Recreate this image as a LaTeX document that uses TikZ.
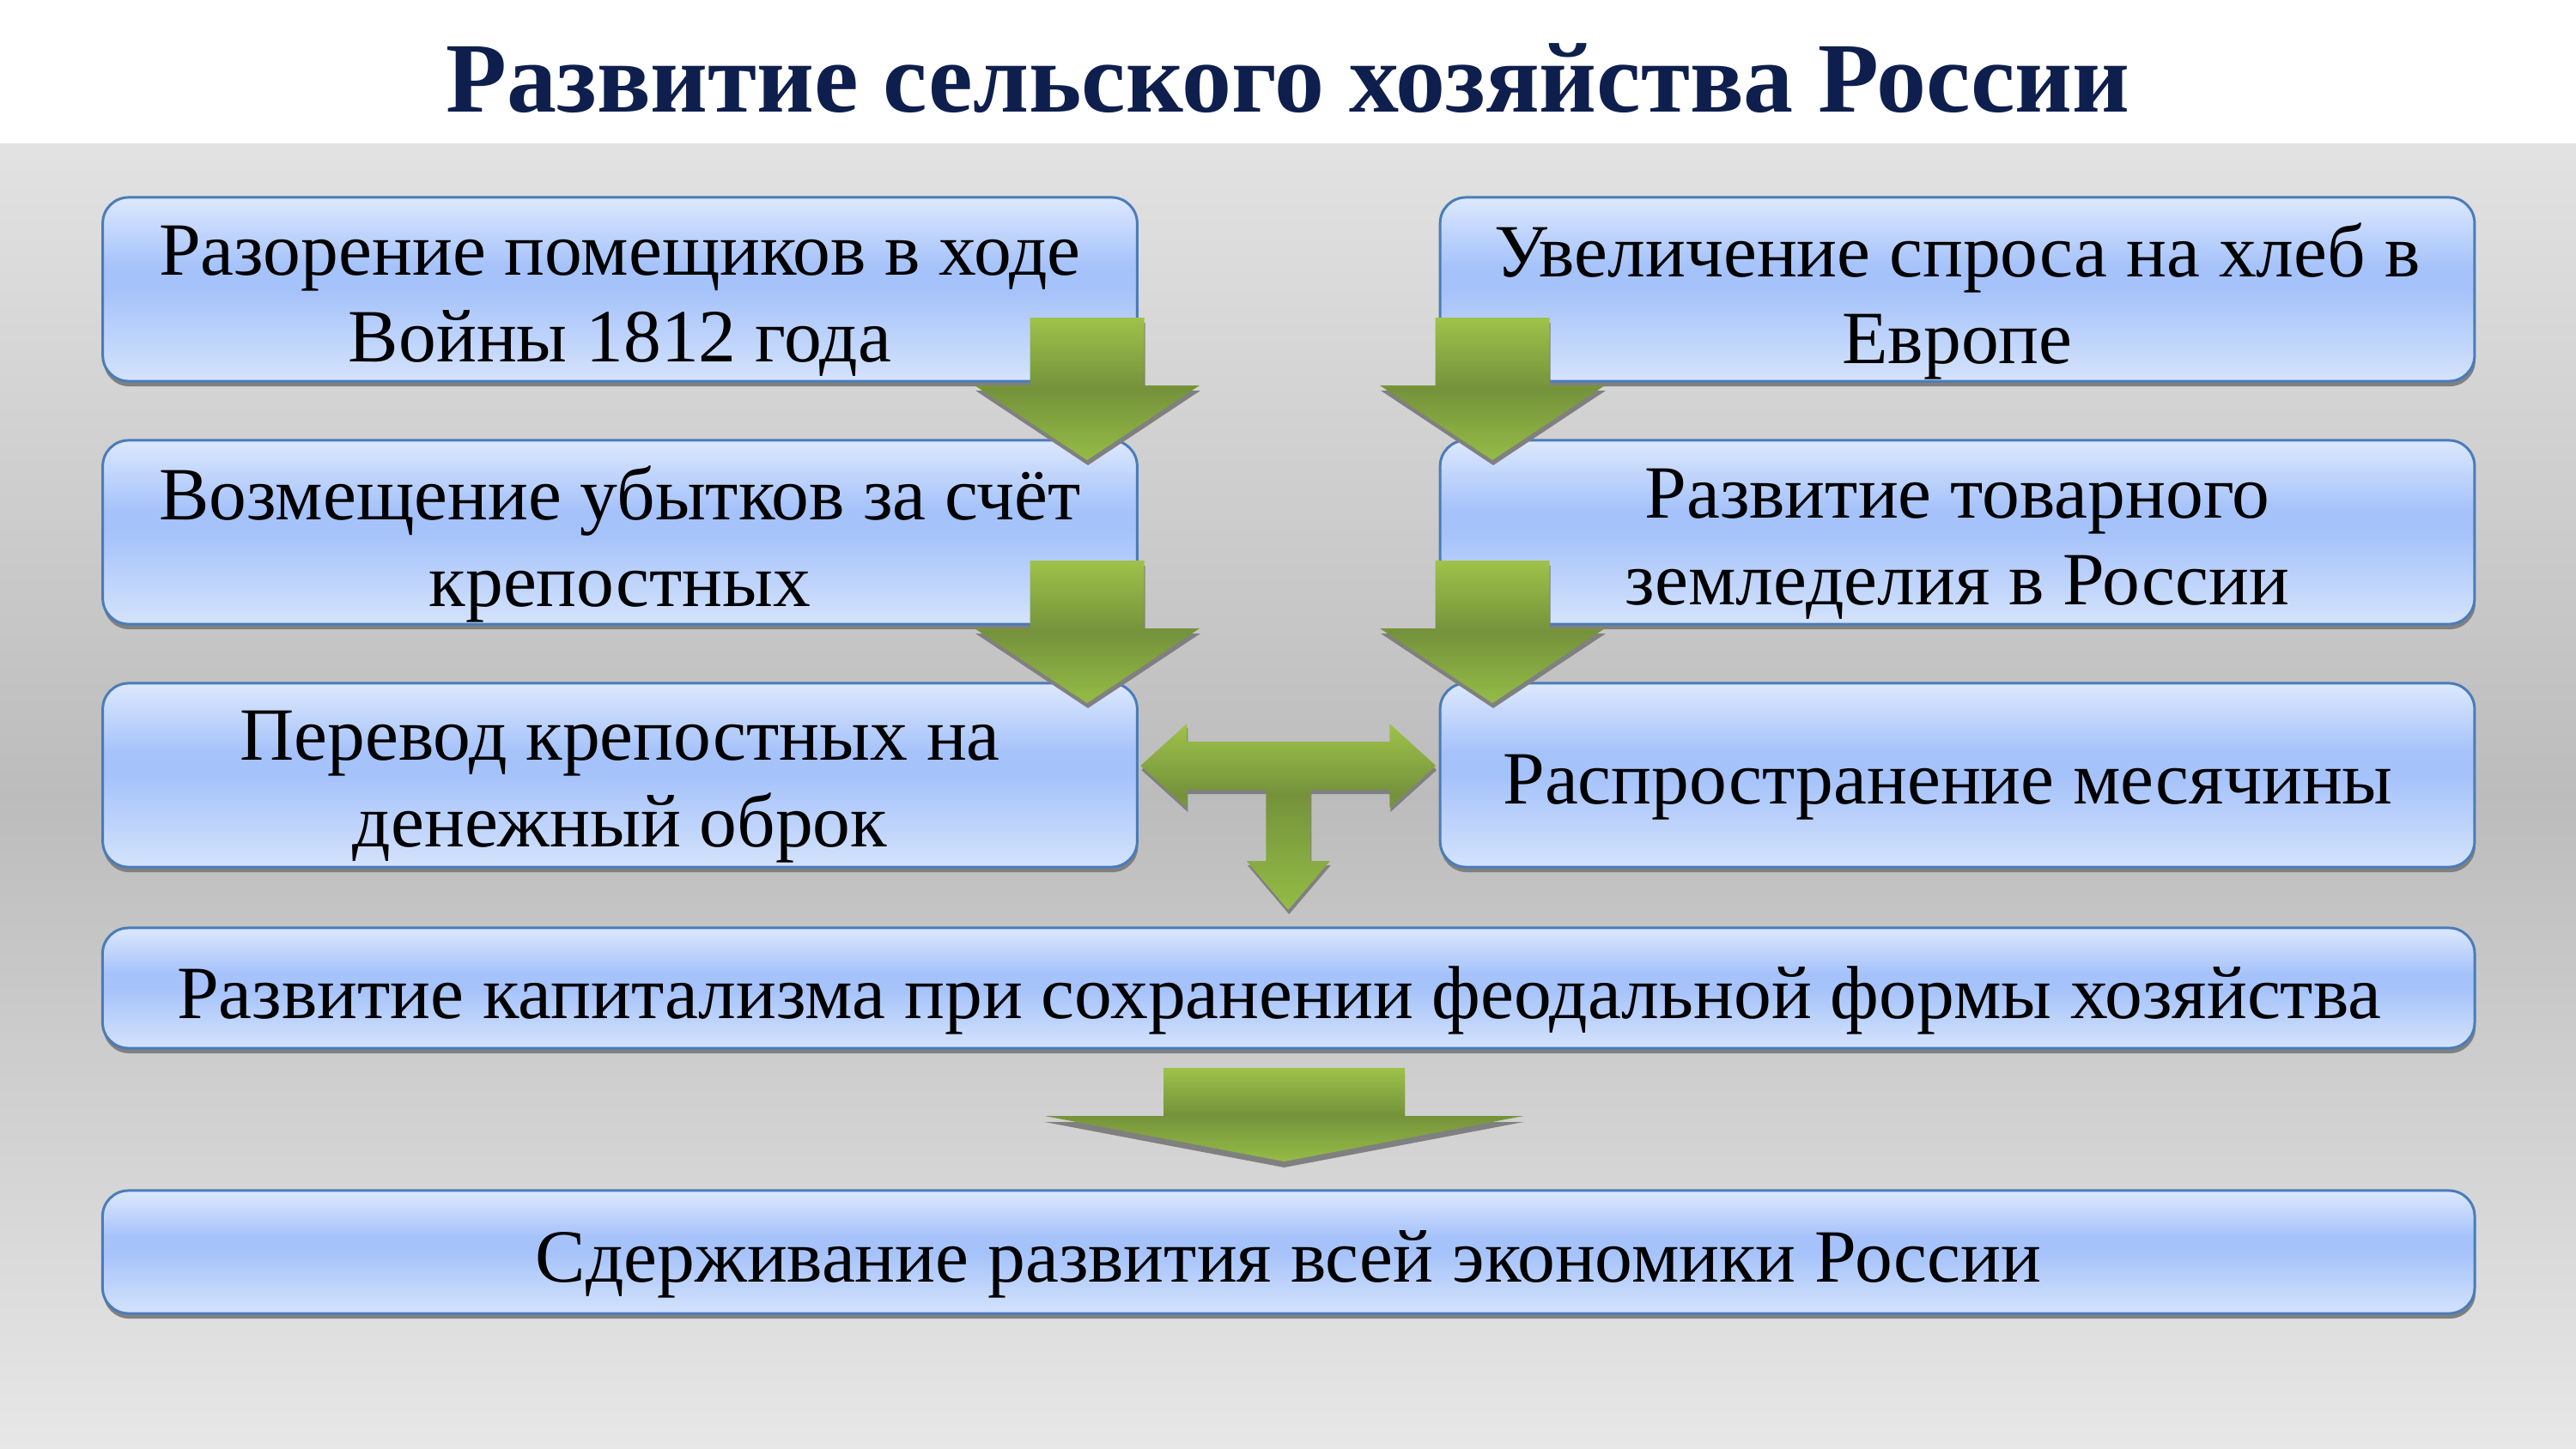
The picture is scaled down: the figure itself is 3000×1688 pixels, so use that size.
\documentclass[tikz,border=0pt]{standalone}
\usepackage{fontspec}
\setmainfont{Liberation Serif}
\usetikzlibrary{shadows}
\definecolor{bxL}{RGB}{220,232,253}
\definecolor{bxB}{RGB}{212,227,252}
\definecolor{bxD}{RGB}{165,194,250}
\definecolor{bxE}{RGB}{74,124,186}
\definecolor{arL}{RGB}{158,194,74}
\definecolor{arD}{RGB}{117,146,59}
\definecolor{arT}{RGB}{148,188,70}
\definecolor{shd}{RGB}{128,128,128}
\definecolor{ttl}{HTML}{0F1F4D}
\definecolor{bgT}{RGB}{226,226,226}
\definecolor{bgM}{RGB}{188,188,188}
\definecolor{bgB}{RGB}{231,231,231}
\pgfdeclareverticalshading{boxsh}{100bp}{color(0bp)=(bxB); color(25bp)=(bxB); color(50bp)=(bxD); color(56bp)=(bxD); color(75bp)=(bxL); color(100bp)=(bxL)}
\pgfdeclareverticalshading{arsh}{100bp}{color(0bp)=(arT); color(25bp)=(arT); color(50bp)=(arD); color(75bp)=(arL); color(100bp)=(arL)}
\pgfdeclareverticalshading{tsh}{100bp}{color(0bp)=(arT); color(25bp)=(arT); color(56bp)=(arD); color(75bp)=(arL); color(100bp)=(arL)}
\pgfdeclareverticalshading{bgsh}{100bp}{color(0bp)=(bgB); color(25bp)=(bgB); color(50bp)=(bgM); color(75bp)=(bgT); color(100bp)=(bgT)}
\tikzset{
  box/.style={draw=bxE, line width=0.85pt, rounded corners=0.3cm, shade, shading=boxsh,
    minimum width=12.04cm, minimum height=2.14cm, inner sep=0pt,
    drop shadow={shadow xshift=0.01cm, shadow yshift=-0.06cm, fill=shd, opacity=1}},
  widebox/.style={box, minimum width=27.61cm},
  txt/.style={align=center, inner sep=0pt, yshift=-0.14cm,
    font=\fontsize{24.9}{28.7}\selectfont, text=black},
  arshadow/.style={fill=shd},
  pics/dnarr/.style={code={
    \fill[arshadow, shift={(1,6)}] (-66.5,0) -- (66.5,0) -- (66.5,79) -- (131,79) -- (0,166) -- (-131,79) -- (-66.5,79) -- cycle;
    \shade[shading=arsh] (-66.5,0) -- (66.5,0) -- (66.5,79) -- (131,79) -- (0,166) -- (-131,79) -- (-66.5,79) -- cycle;
  }},
  pics/bigarr/.style={code={
    \fill[arshadow, shift={(0,7)}] (-140.5,0) -- (140.5,0) -- (140.5,56) -- (279,56) -- (0,109) -- (-279,56) -- (-140.5,56) -- cycle;
    \shade[shading=arsh] (-140.5,0) -- (140.5,0) -- (140.5,56) -- (279,56) -- (0,109) -- (-279,56) -- (-140.5,56) -- cycle;
  }},
  pics/tarr/.style={code={
    \fill[arshadow, shift={(1,5)}] (-172,0) -- (-118,-49) -- (-118,-28) -- (118,-28) -- (118,-49) -- (172,0) -- (118,49) -- (118,28) -- (26,28) -- (26,111) -- (48.5,111) -- (0,168) -- (-48.5,111) -- (-26,111) -- (-26,28) -- (-118,28) -- (-118,49) -- cycle;
    \shade[shading=tsh] (-172,0) -- (-118,-49) -- (-118,-28) -- (118,-28) -- (118,-49) -- (172,0) -- (118,49) -- (118,28) -- (26,28) -- (26,111) -- (48.5,111) -- (0,168) -- (-48.5,111) -- (-26,111) -- (-26,28) -- (-118,28) -- (-118,49) -- cycle;
  }}
}
\begin{document}
\begin{tikzpicture}[x=0.01cm, y=-0.01cm]
\useasboundingbox (0,0) rectangle (3000,1688);
\fill[white] (0,0) rectangle (3000,168);
\shade[shading=bgsh] (0,168) rectangle (3000,1688);

\node[anchor=base, font=\fontsize{33}{40}\selectfont\bfseries, text=ttl] (title) at (1500,130) {Развитие сельского хозяйства России};

\node[box] (b1) at (722,337) {};
\node[box] (b2) at (2279.5,337) {};
\node[box] (b3) at (722,620) {};
\node[box] (b4) at (2279.5,620) {};
\node[box] (b5) at (722,903) {};
\node[box] (b6) at (2279.5,903) {};
\node[widebox, minimum height=1.40cm] (b7) at (1500.7,1151) {};
\node[widebox, minimum height=1.43cm] (b8) at (1500.7,1458.5) {};

\node[txt] (t1) at (b1) {Разорение помещиков в ходе\\Войны 1812 года};
\node[txt] (t2) at (b2) {Увеличение спроса на хлеб в\\Европе};
\node[txt] (t3) at (b3) {Возмещение убытков за счёт\\крепостных};
\node[txt] (t4) at (b4) {Развитие товарного\\земледелия в России};
\node[txt] (t5) at (b5) {Перевод крепостных на\\денежный оброк};
\node[txt, xshift=-0.11cm] (t6) at (b6) {Распространение месячины};
\node[txt, xshift=-0.11cm] (t7) at (b7) {Развитие капитализма при сохранении феодальной формы хозяйства};
\node[txt] (t8) at (b8) {Сдерживание развития всей экономики России};

\pic (a1) at (1266,370) {dnarr};
\pic (a2) at (1266,653) {dnarr};
\pic (a3) at (1738,370) {dnarr};
\pic (a4) at (1738,653) {dnarr};
\pic (a5) at (1500.25,892) {tarr};
\pic (a6) at (1495.5,1244) {bigarr};
\end{tikzpicture}
\end{document}
